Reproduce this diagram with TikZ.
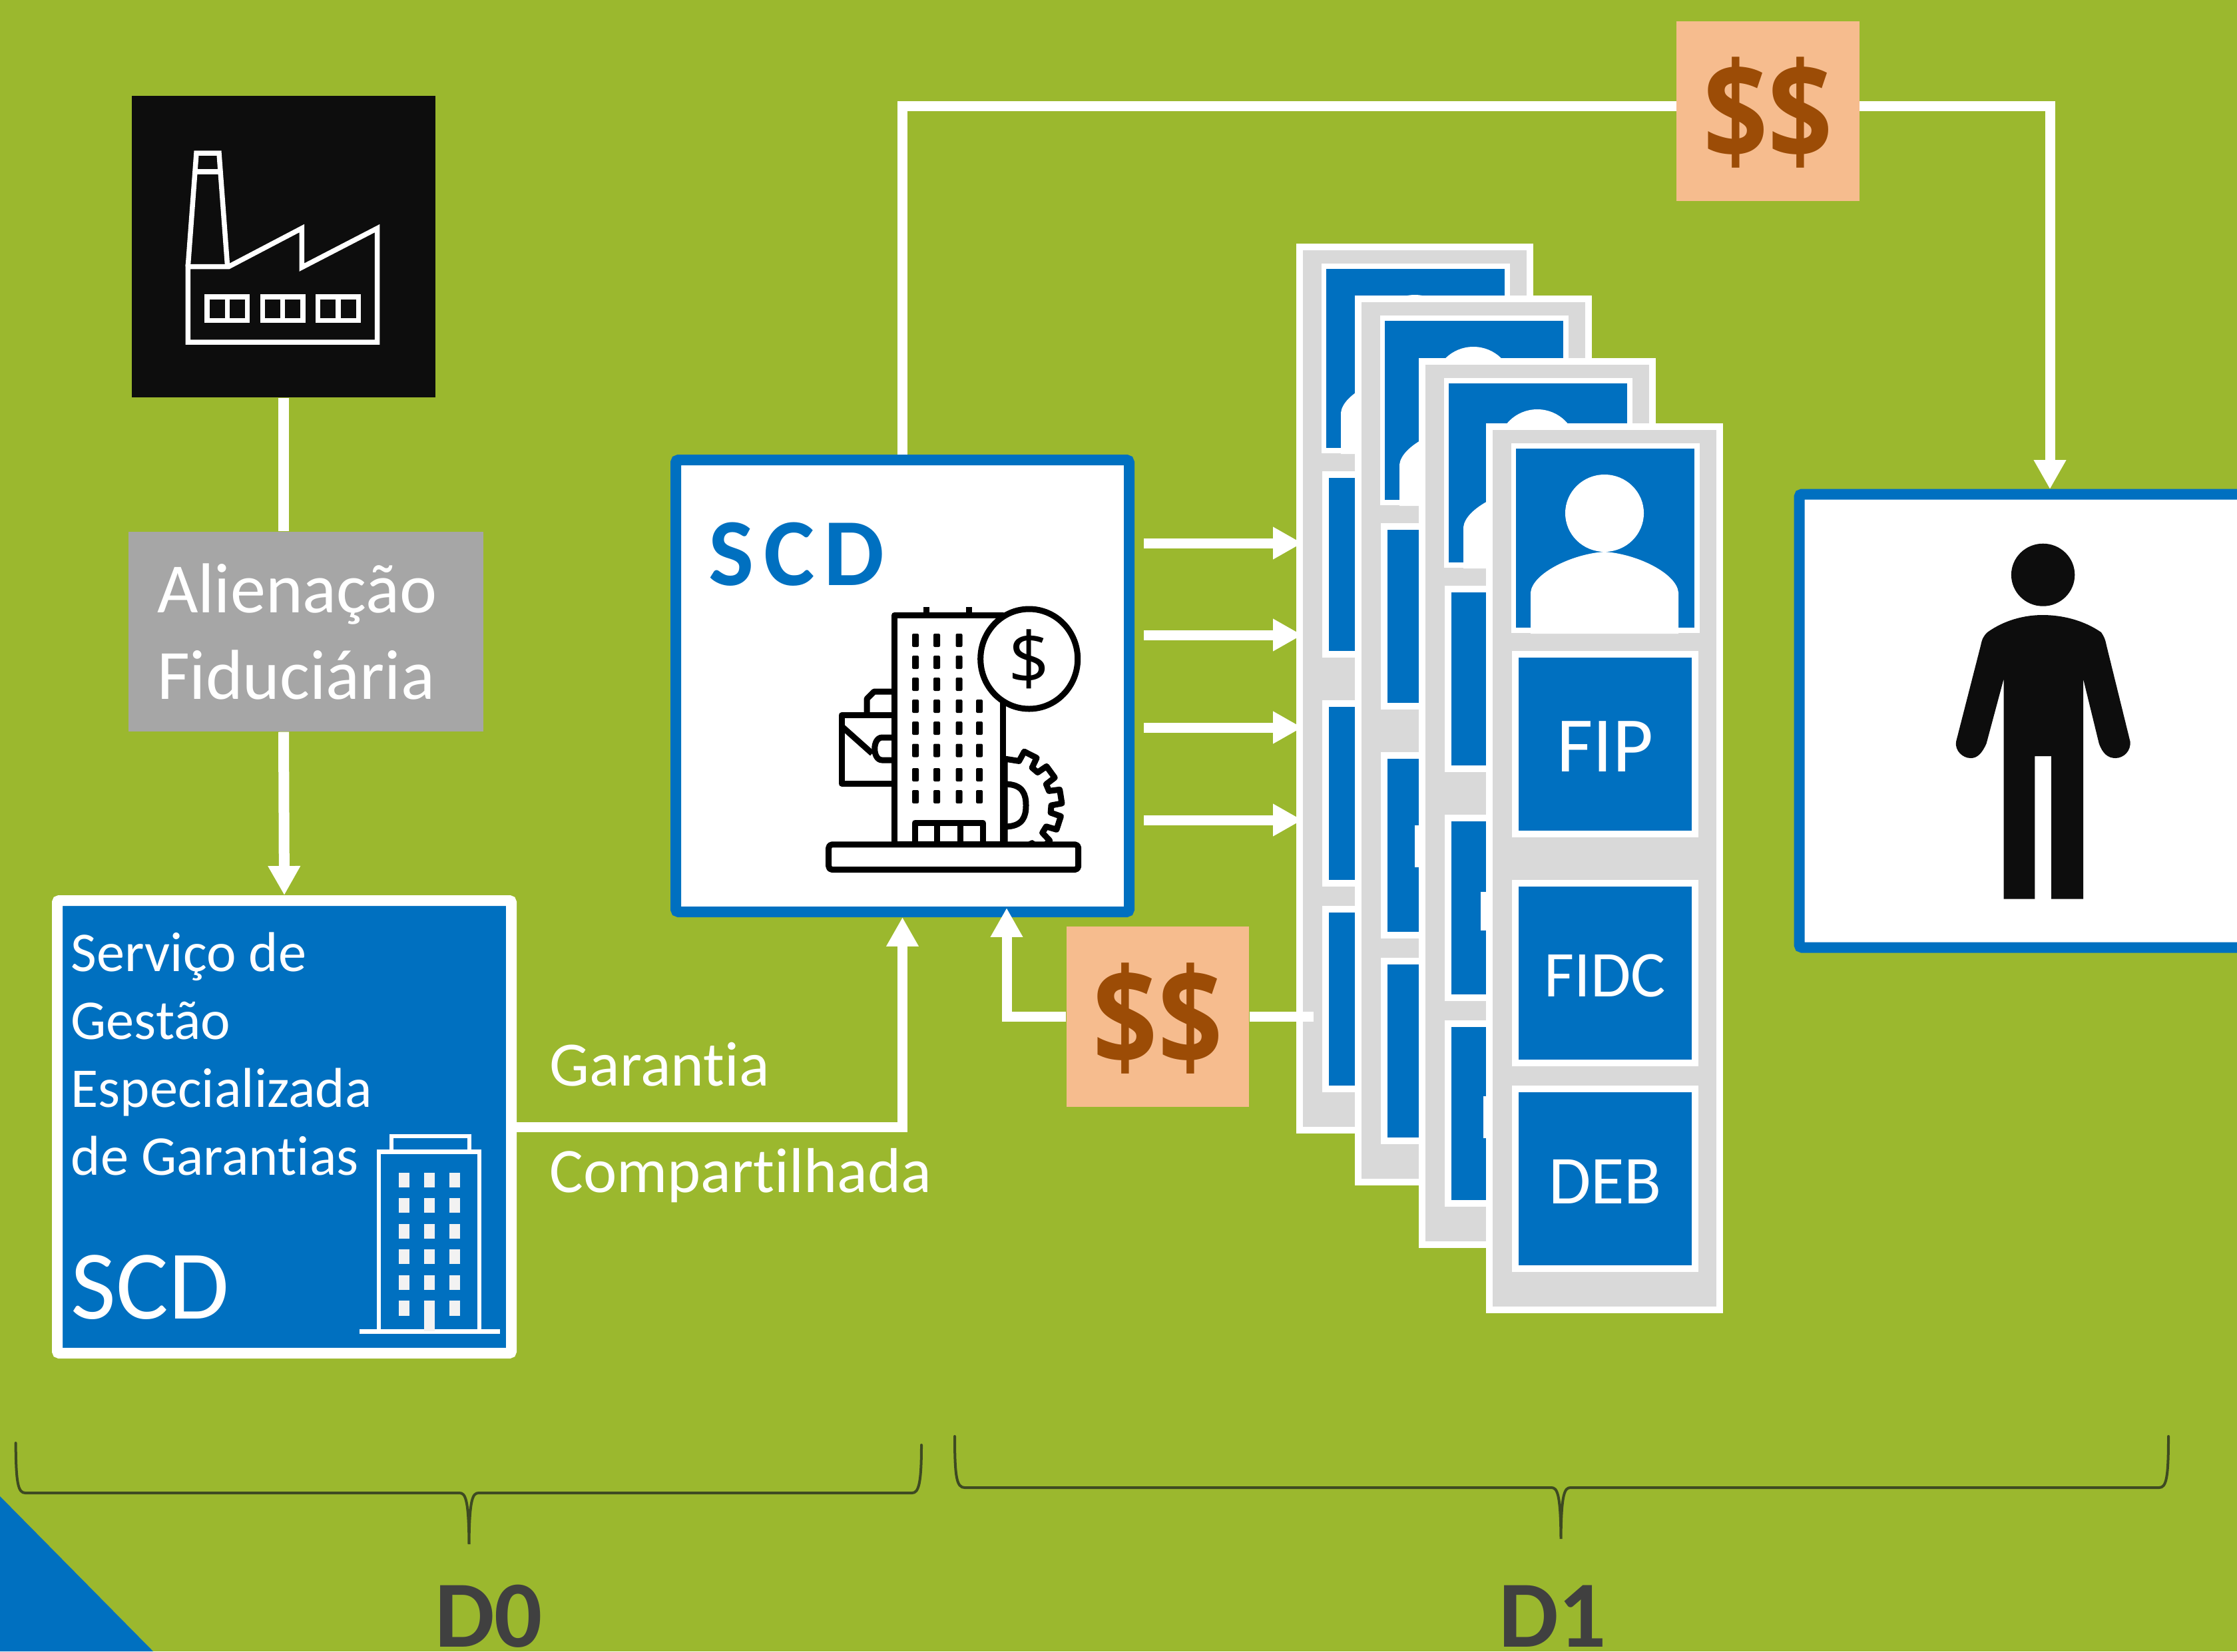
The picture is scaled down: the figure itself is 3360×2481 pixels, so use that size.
\documentclass[tikz,border=0pt]{standalone}
\usepackage{fontspec}
\setmainfont{Carlito}[Ligatures=NoCommon]
\newfontfamily\spaced[LetterSpace=10]{Carlito}
\newfontfamily\moneyfont{Open Sans}
\usetikzlibrary{arrows.meta,calc}
\definecolor{bggreen}{HTML}{9BB82E}
\definecolor{scdblue}{HTML}{0070C0}
\definecolor{cardgray}{HTML}{D9D9D9}
\definecolor{tagorange}{HTML}{F6BC8E}
\definecolor{tagbrown}{HTML}{9C4C06}
\definecolor{factoryblack}{HTML}{0D0D0D}
\definecolor{fidgray}{HTML}{A6A6A6}
\definecolor{darktext}{HTML}{404040}
\definecolor{bracecol}{HTML}{3E4A22}
\def\u{0.01cm}
% centre-line rectangle node: [style]{name}{x0}{y0}{x1}{y1}{text}
\newcommand\nbox[7][]{%
  \node[rectangle,inner sep=0pt,minimum width={((#5)-(#3))*\u},minimum height={((#6)-(#4))*\u},#1]
    (#2) at ({((#3)+(#5))/2},{((#4)+(#6))/2}) {#7};}
\newcommand\cardstack[3]{%
  \nbox[cardbody]{#1}{#2+5}{#3+5}{#2+351}{#3+1332}{}
  \nbox[cardcell,line width=7.5*\u]{#1p}{#2+41.5}{#3+34}{#2+317}{#3+311}{}
  \begin{scope}
    \clip (#2+45,#3+38) rectangle (#2+313,#3+316);
    \fill[white] (#2+178,#3+135) circle [x radius=59,y radius=58];
    \fill[white] (#2+67,#3+316) -- (#2+67,#3+254) .. controls (#2+70,#3+225) and (#2+130,#3+196) .. (#2+178,#3+193)
       .. controls (#2+226,#3+196) and (#2+286,#3+225) .. (#2+289,#3+254) -- (#2+289,#3+316) -- cycle;
  \end{scope}
}
\tikzset{
  cardbody/.style={draw=white,fill=cardgray,line width=10*\u},
  cardcell/.style={draw=white,fill=scdblue,line width=10*\u,text=white},
  whitebox/.style={draw=scdblue,fill=white,line width=16*\u,rounded corners=4*\u},
  tag/.style={fill=tagorange,text=tagbrown,font=\moneyfont\bfseries\fontsize{50}{54}\selectfont,text height=42pt,text depth=0pt},
  flow/.style={draw=white,line width=15*\u},
  flowtip/.style={flow,-{Triangle[length=12.5pt,width=13pt]}},
  lbl/.style={text=white,anchor=base west,inner sep=0pt},
  ico/.style={draw=black,line width=9*\u,line join=round},
  fac/.style={draw=white,line width=7.5*\u,line join=miter},
  brc/.style={draw=bracecol,line width=4*\u,line cap=round},
}
\begin{document}
\begin{tikzpicture}[x=0.01cm,y=-0.01cm]
\useasboundingbox (0,0) rectangle (3360,2481);
\clip (0,0) rectangle (3360,2481);
\fill[bggreen] (0,0) rectangle (3360,2481);
\fill[scdblue] (0,2248) -- (230,2481) -- (0,2481) -- cycle;

% factory
\nbox[fill=factoryblack]{factory}{198}{144}{654}{597}{}
\draw[fac] (282.3,514) -- (566.7,514) -- (566.7,343) -- (453.3,401.7) -- (453.3,343) -- (343.3,400.7) -- (282.3,400.7) -- cycle;
\draw[fac] (282.3,400.7) -- (295,230) -- (329,230) -- (341.7,400.7);
\draw[fac] (293,258) -- (331,258);
\foreach \wx in {311,394.3,477.7}{
  \draw[fac] (\wx,446) rectangle (\wx+60.7,481.7);
  \draw[fac] (\wx+30.3,446) -- (\wx+30.3,481.7);
}

% fiduciary label
\nbox[fill=fidgray,text=white,align=left,font=\fontsize{30.2}{36.7}\selectfont,text width=447*\u]{fid}{193}{799}{726}{1099}{Alienação\\Fiduciária}

% small SCD box
\nbox[draw=white,fill=scdblue,line width=16*\u,rounded corners=3*\u]{small}{86}{1353}{768}{2033}{}
\node[lbl,align=left,font=\fontsize{24}{29}\selectfont] (smalltext) at (106,1765) {Serviço de\\Gestão\\Especializada\\de Garantias};
\node[lbl,font=\fontsize{42}{48}\selectfont] (smallscd) at (106,1981) {SCD};
\draw[white,line width=7*\u] (540,2000) -- (751,2000);
\draw[white,line width=6.5*\u] (569,2000) -- (569,1730.6) -- (720,1730.6) -- (720,2000);
\draw[white,line width=6.5*\u] (588,1730.6) -- (588,1707) -- (705,1707) -- (705,1730.6);
\foreach \wx in {599,637,675}{
  \foreach \wy in {1762,1800,1839,1877,1915.5}{
    \fill[white!95!black] (\wx,\wy) rectangle (\wx+16,\wy+22);
  }
}
\fill[white!95!black] (599,1954) rectangle (615,1977);
\fill[white!95!black] (675,1954) rectangle (691,1977);
\fill[white!95!black] (637,1954) rectangle (653,2000);

% central SCD box
\nbox[whitebox]{scd}{1015}{691}{1696}{1370}{}
\node[anchor=base west,inner sep=0pt,text=scdblue,font=\spaced\bfseries\fontsize{41}{48}\selectfont] (scdtext) at (1064,879) {SCD};
% icon: gear
\begin{scope}[shift={(1509,1210)}]
  \draw[ico,fill=white] (90:70) \foreach \t in {72,45,18,-9,-36,-63}{ -- (\t+9:70) -- (\t+7:86) -- (\t-7:86) -- (\t-9:70)} -- (-90:70) -- cycle;
  \draw[ico] (0,-32) .. controls (28,-32) and (32,-16) .. (32,0) .. controls (32,16) and (28,32) .. (0,32);
\end{scope}
% icon: briefcase
\draw[ico,fill=white] (1343,1177) -- (1264,1177) -- (1264,1074.5) -- (1343,1074.5);
\draw[ico] (1302,1074.5) -- (1302,1050) -- (1313,1039) -- (1343,1039);
\draw[ico] (1264,1091) -- (1310,1132);
\draw[ico] (1343,1108) -- (1325,1108) .. controls (1310,1108) and (1310,1142) .. (1325,1142) -- (1343,1142);
% icon: tower
\draw[ico,fill=white] (1343.5,1268.8) -- (1343.5,924) -- (1506,924) -- (1506,1268.8) -- cycle;
\draw[ico] (1391,912) -- (1391,924);
\draw[ico] (1455,912) -- (1455,924);
\foreach \dx in {1375,1407,1440.5}{
  \foreach \dy in {962,995,1028,1061,1094,1127.5,1164,1197}{
    \fill[black,rounded corners=2*\u] (\dx-5,\dy-10) rectangle (\dx+5,\dy+10);
  }
}
\foreach \dy in {1061,1094,1127.5,1164,1197}{
  \fill[black,rounded corners=2*\u] (1466,\dy-10) rectangle (1476,\dy+10);
}
\draw[ico] (1374,1269) -- (1374,1236) -- (1476,1236) -- (1476,1269);
\draw[ico] (1407,1236) -- (1407,1269);
\draw[ico] (1442,1236) -- (1442,1269);
% icon: coin
\draw[ico,fill=white] (1545.7,990) circle [x radius=73,y radius=75];
\node[inner sep=0pt,font=\moneyfont\fontsize{31}{34}\selectfont] (coin) at (1545.7,990) {\$};
% icon: base
\draw[ico,fill=white,rounded corners=5*\u] (1244.7,1268.8) rectangle (1619.7,1306.5);

% customer box
\nbox[whitebox]{person}{2702.5}{742.5}{3600}{1423.5}{}
\fill[factoryblack] (3068.6,863.7) circle [x radius=47.7,y radius=47];
\fill[factoryblack] (3009.6,1350.5) -- (3009.6,1020) -- (2983.6,1117) .. controls (2977,1132) and (2970,1139) .. (2960,1139)
  .. controls (2948,1139) and (2936,1128) .. (2938,1114.4) -- (2975,970) .. controls (2977,960) and (2979,956) .. (2985,950)
  .. controls (3010,932) and (3040,924) .. (3068,924) .. controls (3098,924) and (3130,932) .. (3156,950)
  .. controls (3160,956) and (3162,960) .. (3164,970) -- (3199.5,1114) .. controls (3201,1128) and (3190,1139) .. (3177.4,1139)
  .. controls (3166,1139) and (3158,1132) .. (3152.7,1117) -- (3129,1020) -- (3129,1350.5) -- (3081,1350.5) -- (3081,1136)
  -- (3056.4,1136) -- (3056.4,1350.5) -- cycle;

% card stacks, back to front
\cardstack{a}{1947}{366}
\nbox[cardcell]{afip}{1947+44}{366+347}{1947+314}{366+617}{}
\nbox[cardcell]{afidc}{1947+44}{366+691}{1947+314}{366+961}{}
\nbox[cardcell]{adeb}{1947+44}{366+1000}{1947+314}{366+1270}{}
\cardstack{b}{2035}{444}
\nbox[cardcell]{bfip}{2035+44}{444+347}{2035+314}{444+617}{}
\nbox[cardcell]{bfidc}{2035+44}{444+691}{2035+314}{444+961}{}
\nbox[cardcell]{bdeb}{2035+44}{444+1000}{2035+314}{444+1270}{}
\fill[white] (2125,1240) rectangle (2140,1303);
\cardstack{c}{2131}{538}
\nbox[cardcell]{cfip}{2131+44}{538+347}{2131+314}{538+617}{}
\nbox[cardcell]{cfidc}{2131+44}{538+691}{2131+314}{538+961}{}
\nbox[cardcell]{cdeb}{2131+44}{538+1000}{2131+314}{538+1270}{}
\fill[white] (2224,1340) rectangle (2240,1398);
\fill[white] (2228,1647) rectangle (2240,1710);
\cardstack{d}{2232}{636}
\nbox[cardcell,font=\fontsize{33.6}{38}\selectfont,text height=23.8pt,text depth=0pt]{dfip}{2232+44}{636+347}{2232+314}{636+617}{FIP}
\nbox[cardcell,font=\fontsize{27.9}{32}\selectfont,text height=20.2pt,text depth=0pt]{dfidc}{2232+44}{636+691}{2232+314}{636+961}{FIDC}
\nbox[cardcell,font=\fontsize{29.3}{34}\selectfont,text height=21.1pt,text depth=0pt]{ddeb}{2232+44}{636+1000}{2232+314}{636+1270}{DEB}

% money tags
\nbox[tag]{tagtop}{2518}{32}{2793}{302}{\scalebox{0.97}[1.16]{\$\$}}
\nbox[tag]{taglow}{1602}{1392}{1876}{1663}{\scalebox{0.97}[1.16]{\$\$}}

% connectors
\coordinate (yone) at (0,816);
\coordinate (ytwo) at (0,954);
\coordinate (ythree) at (0,1093);
\coordinate (yfour) at (0,1232);
\foreach \yy in {yone,ytwo,ythree,yfour}{
  \draw[flowtip,shorten <=14*\u,shorten >=-9*\u] (scd.east |- \yy) -- (a.west |- \yy);
}
\draw[draw=white,line width=16*\u] (factory.south) -- (factory.south |- fid.north);
\draw[flowtip,line width=16*\u] (factory.south |- fid.south) -- (small.north);
\draw[flowtip] (small.east) -| (scd.south);
\coordinate (yellowtip) at (1512,1364);
\draw[flowtip] (taglow.west) -| (yellowtip);
\draw[flow,shorten >=-26*\u] (taglow.east) -- (a.west |- taglow.east);
\coordinate (toptagl) at (2518,159);
\coordinate (toptagr) at (2793,159);
\coordinate (persontop) at (3079,735);
\draw[flow] (scd.north) |- (toptagl);
\draw[flowtip] (toptagr) -| (persontop);

% flow labels
\node[lbl,font=\fontsize{27}{32}\selectfont] (gar) at (825,1631) {Garantia};
\node[lbl,font=\fontsize{27.1}{32}\selectfont] (comp) at (825,1791) {Compartilhada};

% braces
\draw[brc] (23.6,2168) .. controls (24,2228) and (27,2243) .. (38,2243) -- (690,2243) .. controls (699,2243) and (704,2252) .. (704.5,2320)
  .. controls (705,2252) and (710,2243) .. (719,2243) -- (1370,2243) .. controls (1380,2243) and (1384,2228) .. (1384,2171);
\draw[brc] (1434,2158) .. controls (1434,2220) and (1437,2235) .. (1449,2235) -- (2330,2235) .. controls (2339,2235) and (2344,2244) .. (2344.5,2312)
  .. controls (2345,2244) and (2350,2235) .. (2359,2235) -- (3243,2235) .. controls (3254,2235) and (3257,2220) .. (3257,2158);
\node[anchor=base,inner sep=0pt,text=darktext,font=\bfseries\fontsize{40.5}{44}\selectfont] (dzero) at (734,2474) {D0};
\node[anchor=base,inner sep=0pt,text=darktext,font=\bfseries\fontsize{40.5}{44}\selectfont] (done) at (2332,2474) {D1};
\end{tikzpicture}
\end{document}
